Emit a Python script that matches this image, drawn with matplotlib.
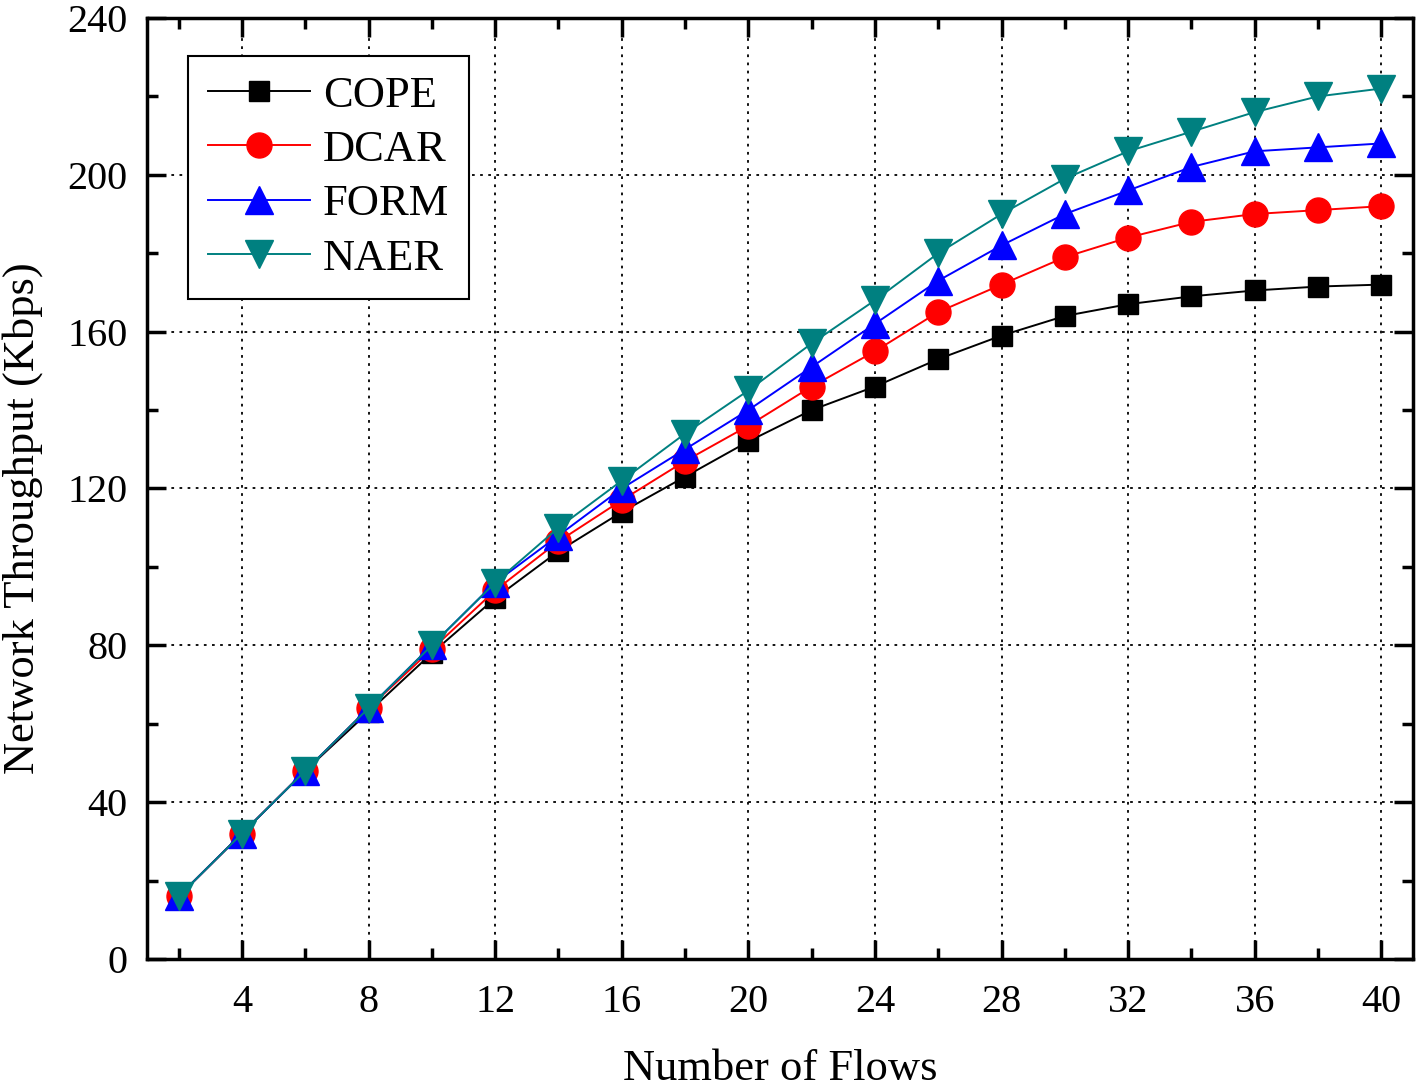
import matplotlib
matplotlib.use("Agg")
import matplotlib.pyplot as plt
from matplotlib.ticker import MultipleLocator

plt.rcParams["font.family"] = ["Liberation Serif", "DejaVu Serif"]

# %%
flows = [2, 4, 6, 8, 10, 12, 14, 16, 18, 20, 22, 24, 26, 28, 30, 32, 34, 36, 38, 40]
cope = [16, 32, 48, 63, 78, 92, 104, 114, 123, 132, 140, 146, 153, 159, 164, 167, 169, 170.5, 171.5, 172]
dcar = [16, 32, 48, 64, 79, 94, 106.5, 117, 127, 136, 146, 155, 165, 172, 179, 184, 188, 190, 191, 192]
form = [16, 32, 48, 64, 80, 96, 108, 120, 130, 140, 151, 162, 173, 182, 190, 196, 202, 206, 207, 208]
naer = [16, 32, 48, 64, 80, 96, 110, 122, 134, 145, 157, 168, 180, 190, 199, 206, 211, 216, 220, 222]

series = [
    ("COPE", cope, "black", "s", 15),
    ("DCAR", dcar, "red", "o", 18),
    ("FORM", form, "blue", "^", 20),
    ("NAER", naer, "#008080", "v", 20),
]

# %%
fig = plt.figure(figsize=(14.18, 10.89), dpi=100)
ax = fig.add_axes([0.1037, 0.1194, 0.8928, 0.8641])

for name, vals, color, marker, ms in series:
    ax.plot(flows, vals, color=color, marker=marker, markersize=ms, lw=1.4, label=name)

ax.set_xlim(1, 41)
ax.set_ylim(0, 240)
ax.xaxis.set_major_locator(MultipleLocator(4))
ax.xaxis.set_minor_locator(MultipleLocator(2))
ax.yaxis.set_major_locator(MultipleLocator(40))
ax.yaxis.set_minor_locator(MultipleLocator(20))
ax.tick_params(which="both", direction="in", top=True, right=True, width=2.5, labelsize=29)
ax.tick_params(which="major", length=14)
ax.tick_params(axis="x", which="major", pad=18)
ax.tick_params(axis="y", which="major", pad=14)
ax.tick_params(which="minor", length=8)
ax.grid(True, which="major", linestyle=(0, (1.5, 3)), color="black", lw=1.3)
for sp in ax.spines.values():
    sp.set_linewidth(2.5)

ax.set_xlabel("Number of Flows", fontsize=32, labelpad=20)
ax.set_ylabel("Network Throughput (Kbps)", fontsize=32)
ax.yaxis.set_label_coords(-0.082, 0.468)

leg = ax.legend(loc="upper left", bbox_to_anchor=(0.032, 0.96), borderaxespad=0, fontsize=32,
                fancybox=False, edgecolor="black", framealpha=1, handlelength=2.3,
                borderpad=0.45, labelspacing=0.32, handletextpad=0.3)
leg.get_frame().set_linewidth(1.5)

plt.savefig("out.png", dpi=100)
